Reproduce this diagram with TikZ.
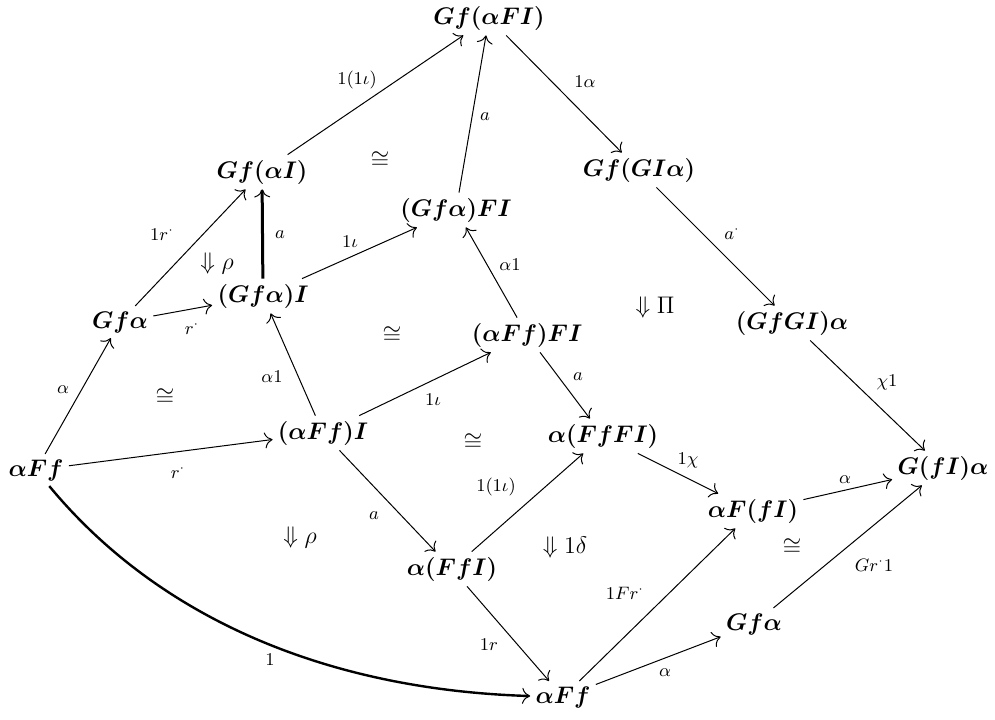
\documentclass[tikz,border=0pt]{standalone}
\usepackage{amsmath,amssymb}
\usetikzlibrary{arrows.meta}
\begin{document}
\begin{tikzpicture}[x=0.5pt,y=-0.5pt,
  obj/.style={font=\large\boldmath, inner sep=2.5pt},
  lbl/.style={font=\small, inner sep=0pt},
  cell/.style={font=\large, inner sep=0pt},
  tip/.style={-{To[length=4pt,width=8pt,line width=0.5pt]}},
  arr/.style={tip, line width=0.5pt},
  thickarr/.style={tip, line width=1.5pt}]
\useasboundingbox (0,0) rectangle (995,719);
% objects
\node[obj] (top)   at (489,18)  {$Gf(\alpha FI)$};
\node[obj] (GaI)   at (262,172) {$Gf(\alpha I)$};
\node[obj] (GGIa)  at (639,170) {$Gf(GI\alpha)$};
\node[obj] (GaFI)  at (456,210) {$(Gf\alpha)FI$};
\node[obj] (GfaL)  at (120,322) {$Gf\alpha$};
\node[obj] (GaIb)  at (263,296) {$(Gf\alpha)I$};
\node[obj] (aFfFI) at (527,335) {$(\alpha Ff)FI$};
\node[obj] (GfGIa) at (792,323) {$(GfGI)\alpha$};
\node[obj] (aFfL)  at (36,470)  {$\alpha Ff$};
\node[obj] (aFfI)  at (323,433) {$(\alpha Ff)I$};
\node[obj] (aFFI)  at (603,436) {$\alpha(FfFI)$};
\node[obj] (GfIa)  at (943,468) {$G(fI)\alpha$};
\node[obj] (aFfIr) at (753,511) {$\alpha F(fI)$};
\node[obj] (aFfIb) at (452,569) {$\alpha(FfI)$};
\node[obj] (GfaR)  at (754,624) {$Gf\alpha$};
\node[obj] (aFfB)  at (563,697) {$\alpha Ff$};
% connectors
\draw[arr] (GaI) -- (top);
\draw[arr] (GaFI) -- (top);
\draw[arr] (top) -- (GGIa);
\draw[arr] (GfaL) -- (GaI);
\draw[thickarr] (GaIb) -- (GaI);
\draw[arr] (GaIb) -- (GaFI);
\draw[arr] (GfaL) -- (GaIb);
\draw[arr] (GGIa) -- (GfGIa);
\draw[arr] (aFfFI) -- (GaFI);
\draw[arr] (aFfL) -- (GfaL);
\draw[arr] (aFfI) -- (GaIb);
\draw[arr] (aFfI) -- (aFfFI);
\draw[arr] (aFfFI) -- (aFFI);
\draw[arr] (GfGIa) -- (GfIa);
\draw[arr] (aFfL) -- (aFfI);
\draw[arr] (aFFI) -- (aFfIr);
\draw[arr] (aFfIr) -- (GfIa);
\draw[arr] (aFfIb) -- (aFFI);
\draw[arr] (aFfI) -- (aFfIb);
\draw[arr] (GfaR) -- (GfIa);
\draw[arr] (aFfB) -- (aFfIr);
\draw[arr] (aFfIb) -- (aFfB);
\draw[arr] (aFfB) -- (GfaR);
\draw[tip, line width=1.2pt] (aFfL) .. controls (160,620) and (330,690) .. (aFfB);
% labels
\node[lbl] at (357,80)  {$1(1\iota)$};
\node[lbl] at (485,117) {$a$};
\node[lbl] at (585,82)  {$1\alpha$};
\node[lbl] at (162,234) {$1r^{\cdot}$};
\node[lbl] at (280,235) {$a$};
\node[lbl] at (350,242) {$1\iota$};
\node[lbl] at (192,328) {$r^{\cdot}$};
\node[lbl] at (732,233) {$a^{\cdot}$};
\node[lbl] at (510,265) {$\alpha1$};
\node[lbl] at (63,390)  {$\alpha$};
\node[lbl] at (272,377) {$\alpha1$};
\node[lbl] at (433,400) {$1\iota$};
\node[lbl] at (578,377) {$a$};
\node[lbl] at (887,382) {$\chi1$};
\node[lbl] at (178,472) {$r^{\cdot}$};
\node[lbl] at (688,460) {$1\chi$};
\node[lbl] at (845,480) {$\alpha$};
\node[lbl] at (496,487) {$1(1\iota)$};
\node[lbl] at (374,516) {$a$};
\node[lbl] at (874,565) {$Gr^{\cdot}1$};
\node[lbl] at (625,593) {$1Fr^{\cdot}$};
\node[lbl] at (270,660) {$1$};
\node[lbl] at (489,645) {$1r$};
\node[lbl] at (665,673) {$\alpha$};
% 2-cells
\node[cell] at (380,160) {$\cong$};
\node[cell] at (217,263) {$\Downarrow\rho$};
\node[cell] at (655,307) {$\Downarrow\Pi$};
\node[cell] at (392,335) {$\cong$};
\node[cell] at (165,397) {$\cong$};
\node[cell] at (473,442) {$\cong$};
\node[cell] at (300,537) {$\Downarrow\rho$};
\node[cell] at (565,547) {$\Downarrow1\delta$};
\node[cell] at (792,547) {$\cong$};
\end{tikzpicture}
\end{document}
